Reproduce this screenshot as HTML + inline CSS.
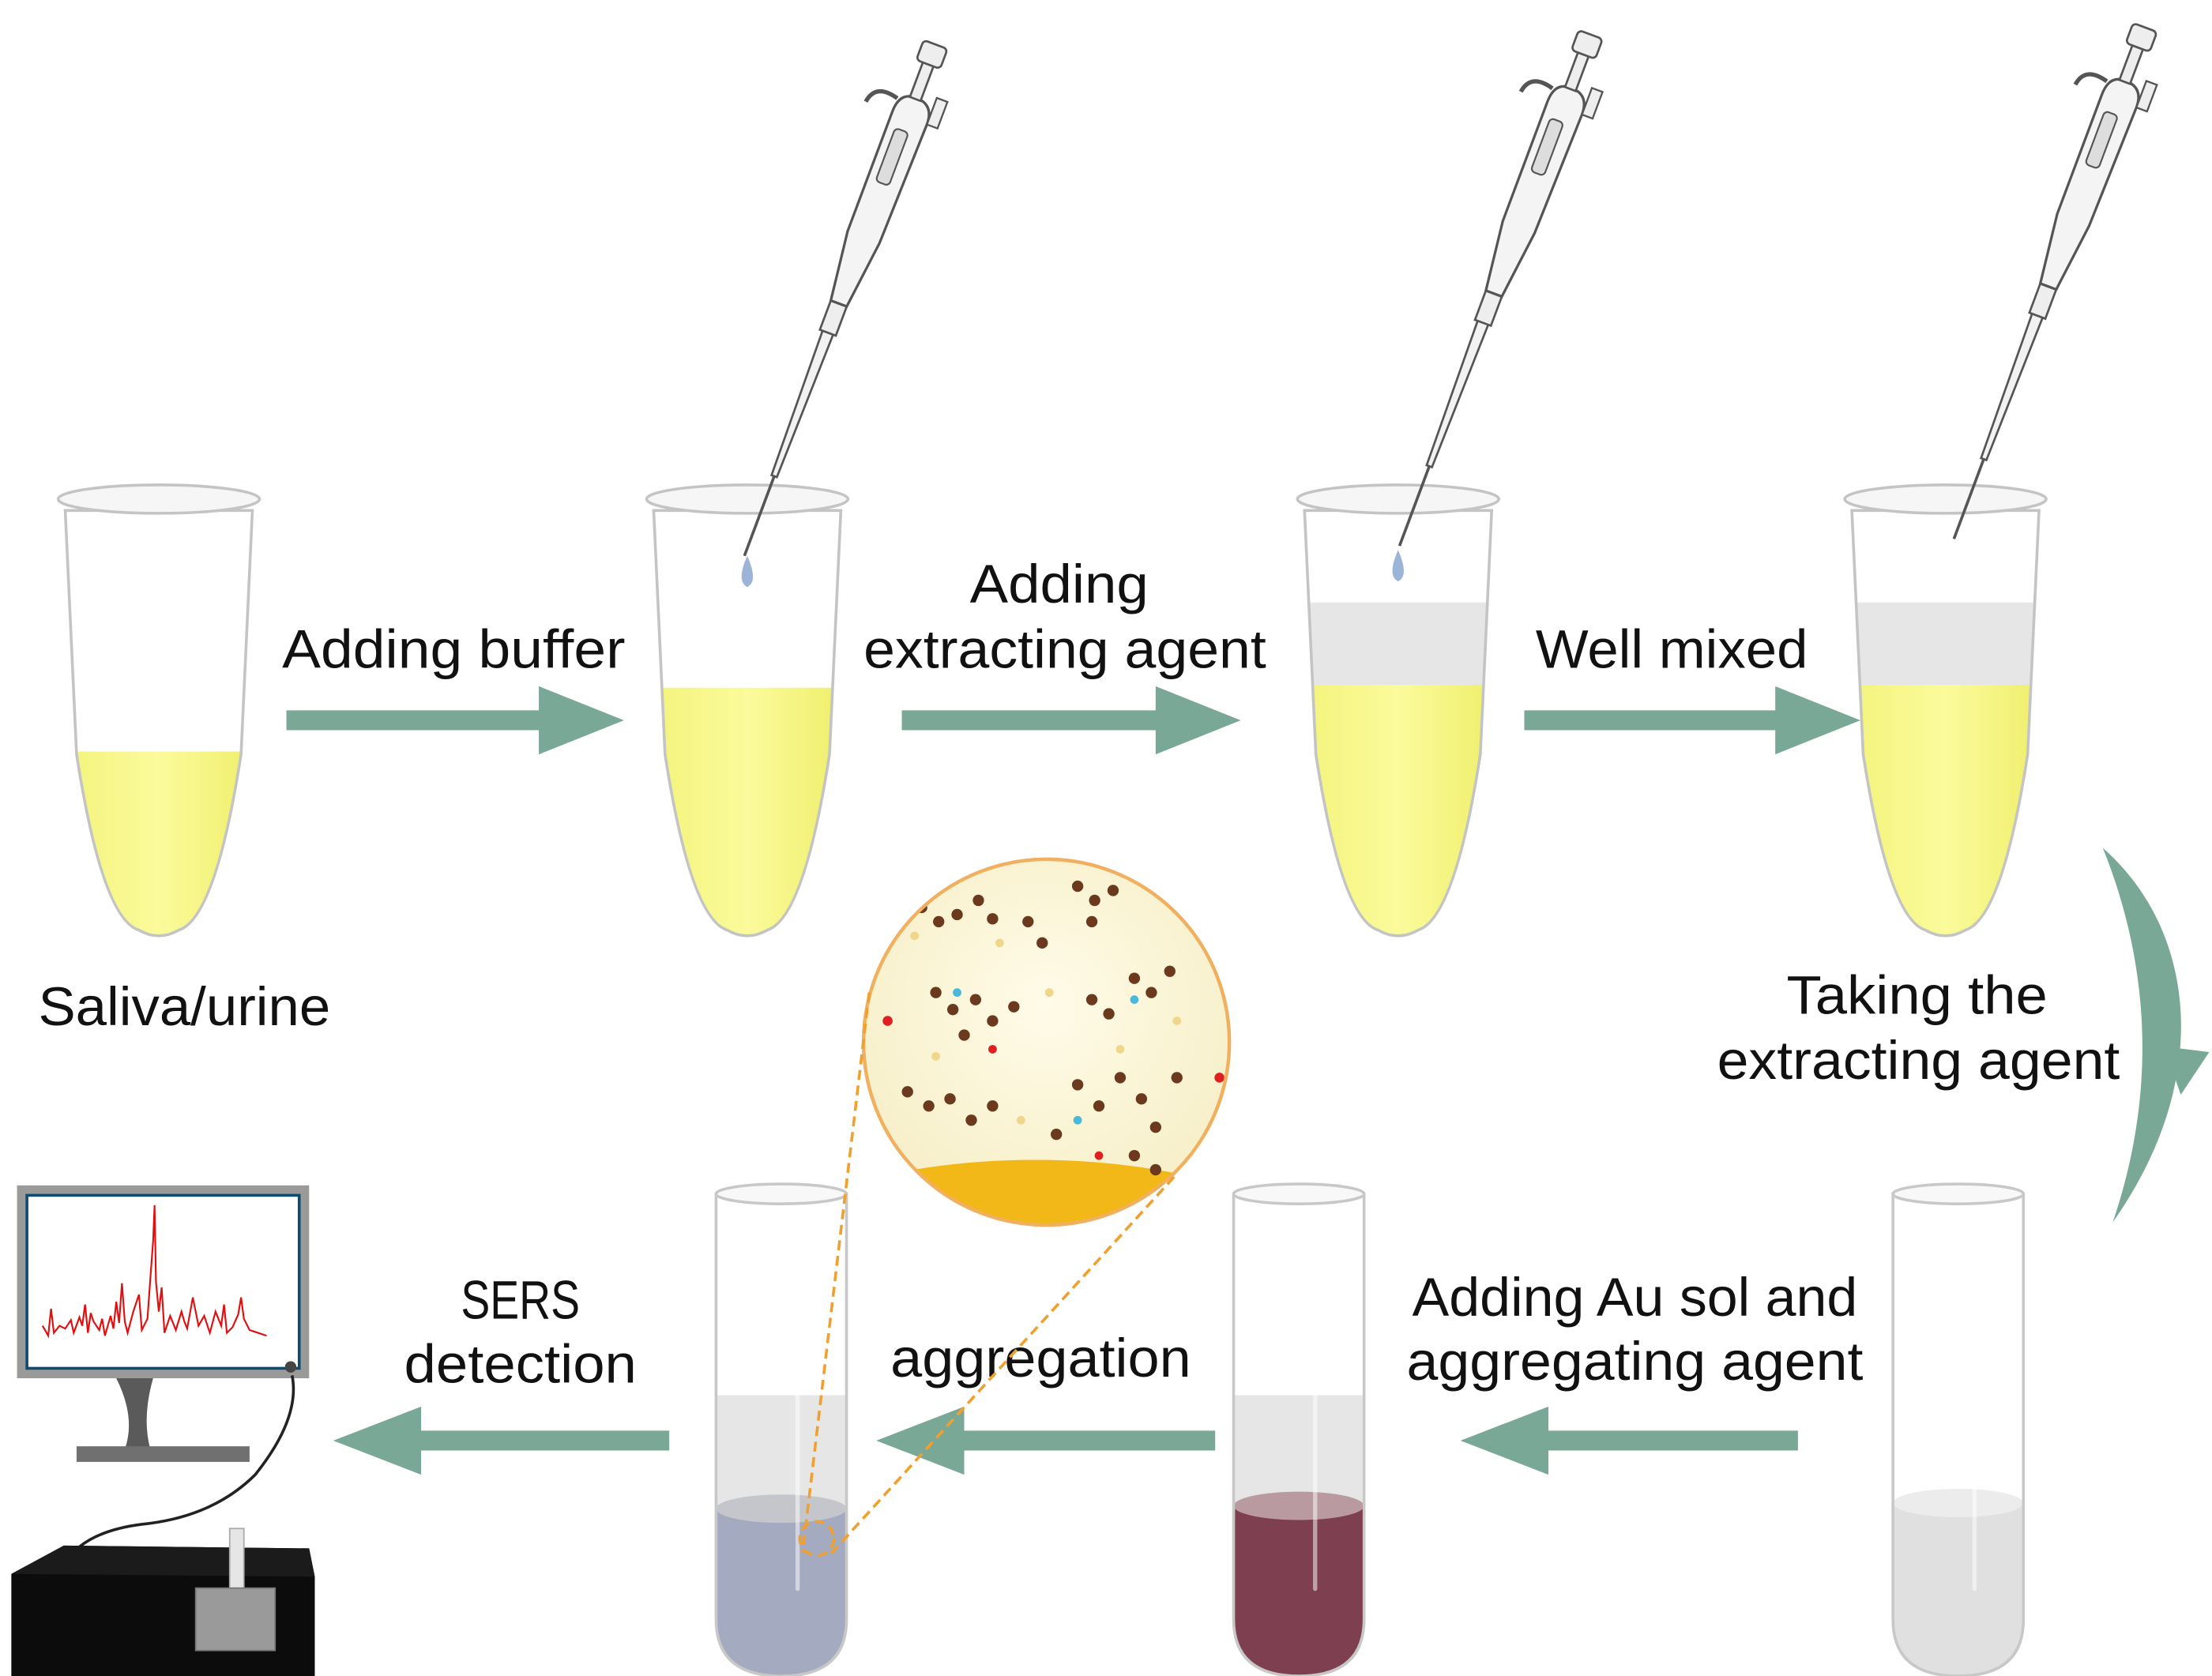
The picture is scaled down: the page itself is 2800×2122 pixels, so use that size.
<!DOCTYPE html>
<html><head><meta charset="utf-8"><style>
html,body{margin:0;padding:0;background:#fff}
svg{display:block}
text{font-family:"Liberation Sans Narrow","Liberation Sans",sans-serif;fill:#111}
</style></head><body>
<svg width="2800" height="2122" viewBox="0 0 1560 1182" preserveAspectRatio="none" xmlns="http://www.w3.org/2000/svg">
<defs>
<path id="ep" d="M-66,8 L-58,180 Q-40,296 -14,304 Q0,312 14,304 Q40,296 58,180 L66,8 Z"/>
<clipPath id="epc"><use href="#ep"/></clipPath>
<path id="tt" d="M-46,0 L-46,300 Q-46,340 0,340 Q46,340 46,300 L46,0 Z"/>
<clipPath id="ttc"><use href="#tt"/></clipPath>
<linearGradient id="yl" x1="0" x2="1"><stop offset="0" stop-color="#f3f37a"/><stop offset=".5" stop-color="#fbfb9c"/><stop offset="1" stop-color="#eeee6a"/></linearGradient>
<radialGradient id="cg" cx=".5" cy=".4" r=".6"><stop offset="0" stop-color="#fffbe8"/><stop offset="1" stop-color="#f7efc8"/></radialGradient>
<g id="pip">
<line x1="0" y1="0" x2="0" y2="-60" stroke="#555" stroke-width="2"/>
<path d="M-2,-60 L-4,-170 L4,-170 L2,-60 Z" fill="#f2f2f2" stroke="#555" stroke-width="1.5"/>
<rect x="-6" y="-190" width="12" height="22" fill="#eee" stroke="#555" stroke-width="1.5"/>
<path d="M-6,-190 L-12,-240 L-12,-330 Q-12,-345 0,-345 Q14,-345 14,-330 L12,-240 L6,-190 Z" fill="#f4f4f4" stroke="#555" stroke-width="1.8"/>
<rect x="-6" y="-320" width="10" height="40" rx="3" fill="#ddd" stroke="#555" stroke-width="1.2"/>
<rect x="-4" y="-370" width="8" height="26" fill="#eee" stroke="#555" stroke-width="1.5"/>
<rect x="-9" y="-385" width="18" height="15" rx="3" fill="#eee" stroke="#555" stroke-width="1.5"/>
<path d="M-12,-340 Q-30,-345 -32,-330" fill="none" stroke="#555" stroke-width="3"/>
<rect x="14" y="-350" width="8" height="20" fill="#eee" stroke="#555" stroke-width="1.3"/>
</g>
</defs>

<g transform="translate(112,352)">
<g clip-path="url(#epc)"><rect x="-70" y="178" width="140" height="140" fill="url(#yl)"/></g>
<use href="#ep" fill="none" stroke="#c4c4c4" stroke-width="2"/>
<ellipse cx="0" cy="0" rx="71" ry="10" fill="#f6f6f6" stroke="#c4c4c4" stroke-width="2"/>
</g>
<g transform="translate(527,352)">
<g clip-path="url(#epc)"><rect x="-70" y="133" width="140" height="190" fill="url(#yl)"/></g>
<use href="#ep" fill="none" stroke="#c4c4c4" stroke-width="2"/>
<ellipse cx="0" cy="0" rx="71" ry="10" fill="#f6f6f6" stroke="#c4c4c4" stroke-width="2"/>
<path d="M0,40 Q-8,58 0,62 Q8,58 0,40Z" fill="#9cb4d8"/>
</g>
<g transform="translate(986,352)">
<g clip-path="url(#epc)"><rect x="-70" y="73" width="140" height="60" fill="#e6e6e6"/><rect x="-70" y="131" width="140" height="190" fill="url(#yl)"/></g>
<use href="#ep" fill="none" stroke="#c4c4c4" stroke-width="2"/>
<ellipse cx="0" cy="0" rx="71" ry="10" fill="#f6f6f6" stroke="#c4c4c4" stroke-width="2"/>
<path d="M0,36 Q-8,54 0,58 Q8,54 0,36Z" fill="#9cb4d8"/>
</g>
<g transform="translate(1372,352)">
<g clip-path="url(#epc)"><rect x="-70" y="73" width="140" height="60" fill="#e6e6e6"/><rect x="-70" y="131" width="140" height="190" fill="url(#yl)"/></g>
<use href="#ep" fill="none" stroke="#c4c4c4" stroke-width="2"/>
<ellipse cx="0" cy="0" rx="71" ry="10" fill="#f6f6f6" stroke="#c4c4c4" stroke-width="2"/>
</g>

<use href="#pip" transform="translate(525,392) rotate(20.5)"/>
<use href="#pip" transform="translate(987,385) rotate(20.5)"/>
<use href="#pip" transform="translate(1378,380) rotate(20.5)"/>

<g fill="#7aa896">
<path d="M202,501 H380 V484 L440,508 L380,532 V515 H202 Z"/>
<path d="M636,501 H815 V484 L875,508 L815,532 V515 H636 Z"/>
<path d="M1075,501 H1252 V484 L1312,508 L1252,532 V515 H1075 Z"/>
<path d="M1268,1009 H1092 V992 L1030,1016 L1092,1040 V1023 H1268 Z"/>
<path d="M857,1009 H680 V992 L618,1016 L680,1040 V1023 H857 Z"/>
<path d="M472,1009 H297 V992 L235,1016 L297,1040 V1023 H472 Z"/>
<path d="M1483,598 C1548,655 1562,760 1490,862 C1518,780 1520,690 1483,598 Z"/>
<path d="M1526,738 L1558,742 L1538,772 Z"/>
</g>

<g font-size="38">
<text x="320" y="471" text-anchor="middle" textLength="242" lengthAdjust="spacingAndGlyphs">Adding buffer</text>
<text x="747" y="425" text-anchor="middle" textLength="126" lengthAdjust="spacingAndGlyphs">Adding</text>
<text x="751" y="471" text-anchor="middle" textLength="284" lengthAdjust="spacingAndGlyphs">extracting agent</text>
<text x="1179" y="471" text-anchor="middle" textLength="192" lengthAdjust="spacingAndGlyphs">Well mixed</text>
<text x="130" y="723" text-anchor="middle" textLength="206" lengthAdjust="spacingAndGlyphs">Saliva/urine</text>
<text x="1352" y="715" text-anchor="middle" textLength="184" lengthAdjust="spacingAndGlyphs">Taking the</text>
<text x="1353" y="761" text-anchor="middle" textLength="284" lengthAdjust="spacingAndGlyphs">extracting agent</text>
<text x="1153" y="928" text-anchor="middle" textLength="314" lengthAdjust="spacingAndGlyphs">Adding Au sol and</text>
<text x="1153" y="973" text-anchor="middle" textLength="322" lengthAdjust="spacingAndGlyphs">aggregating agent</text>
<text x="734" y="971" text-anchor="middle" textLength="212" lengthAdjust="spacingAndGlyphs">aggregation</text>
<text x="367" y="930" text-anchor="middle" textLength="84" lengthAdjust="spacingAndGlyphs">SERS</text>
<text x="367" y="975" text-anchor="middle" textLength="164" lengthAdjust="spacingAndGlyphs">detection</text>
</g>

<g transform="translate(551,842)">
<g clip-path="url(#ttc)"><rect x="-50" y="142" width="100" height="80" fill="#e6e6e6"/><rect x="-50" y="222" width="100" height="130" fill="#a4aac0"/><ellipse cx="0" cy="222" rx="46" ry="10" fill="#c4c6cc"/></g>
<use href="#tt" fill="none" stroke="#c8c8c8" stroke-width="2"/>
<ellipse cx="0" cy="0" rx="46" ry="7" fill="#f8f8f8" stroke="#c8c8c8" stroke-width="2"/>
<rect x="10" y="30" width="3" height="250" rx="1.5" fill="#fff" opacity=".5"/>
</g>
<g transform="translate(916,842)">
<g clip-path="url(#ttc)"><rect x="-50" y="142" width="100" height="80" fill="#e6e6e6"/><rect x="-50" y="220" width="100" height="130" fill="#7e4050"/><ellipse cx="0" cy="220" rx="46" ry="10" fill="#b89aa0"/></g>
<use href="#tt" fill="none" stroke="#c8c8c8" stroke-width="2"/>
<ellipse cx="0" cy="0" rx="46" ry="7" fill="#f8f8f8" stroke="#c8c8c8" stroke-width="2"/>
<rect x="10" y="30" width="3" height="250" rx="1.5" fill="#fff" opacity=".5"/>
</g>
<g transform="translate(1381,842)">
<g clip-path="url(#ttc)"><rect x="-50" y="218" width="100" height="130" fill="#e0e0e0"/><ellipse cx="0" cy="218" rx="46" ry="10" fill="#ececec"/></g>
<use href="#tt" fill="none" stroke="#c8c8c8" stroke-width="2"/>
<ellipse cx="0" cy="0" rx="46" ry="7" fill="#f8f8f8" stroke="#c8c8c8" stroke-width="2"/>
<rect x="10" y="30" width="3" height="250" rx="1.5" fill="#fff" opacity=".5"/>
</g>

<clipPath id="cc"><circle cx="738" cy="735" r="129"/></clipPath>
<circle cx="738" cy="735" r="129" fill="url(#cg)"/>
<g clip-path="url(#cc)">
<ellipse cx="730" cy="890" rx="200" ry="72" fill="#f2b818"/>
<g fill="#6b3a1e">
<circle cx="650" cy="640" r="4"/><circle cx="662" cy="650" r="4"/><circle cx="675" cy="645" r="4"/><circle cx="690" cy="635" r="4"/><circle cx="700" cy="648" r="4"/>
<circle cx="760" cy="625" r="4"/><circle cx="772" cy="635" r="4"/><circle cx="785" cy="628" r="4"/><circle cx="770" cy="650" r="4"/>
<circle cx="660" cy="700" r="4"/><circle cx="672" cy="712" r="4"/><circle cx="688" cy="705" r="4"/><circle cx="700" cy="720" r="4"/><circle cx="715" cy="710" r="4"/><circle cx="680" cy="730" r="4"/>
<circle cx="770" cy="705" r="4"/><circle cx="782" cy="715" r="4"/><circle cx="800" cy="690" r="4"/><circle cx="812" cy="700" r="4"/><circle cx="825" cy="685" r="4"/>
<circle cx="640" cy="770" r="4"/><circle cx="655" cy="780" r="4"/><circle cx="670" cy="775" r="4"/><circle cx="685" cy="790" r="4"/><circle cx="700" cy="780" r="4"/>
<circle cx="760" cy="765" r="4"/><circle cx="775" cy="780" r="4"/><circle cx="790" cy="760" r="4"/><circle cx="805" cy="775" r="4"/><circle cx="815" cy="795" r="4"/><circle cx="830" cy="760" r="4"/>
<circle cx="745" cy="800" r="4"/><circle cx="800" cy="815" r="4"/><circle cx="815" cy="825" r="4"/><circle cx="725" cy="650" r="4"/><circle cx="735" cy="665" r="4"/>
</g>
<g fill="#f0d68a"><circle cx="645" cy="660" r="3"/><circle cx="705" cy="665" r="3"/><circle cx="740" cy="700" r="3"/><circle cx="790" cy="740" r="3"/><circle cx="720" cy="790" r="3"/><circle cx="660" cy="745" r="3"/><circle cx="830" cy="720" r="3"/></g>
<g fill="#4ab8d8"><circle cx="675" cy="700" r="3"/><circle cx="800" cy="705" r="3"/><circle cx="760" cy="790" r="3"/></g>
<g fill="#e02020"><circle cx="626" cy="720" r="3.5"/><circle cx="700" cy="740" r="3"/><circle cx="775" cy="815" r="3"/><circle cx="860" cy="760" r="3.5"/></g>
</g>
<circle cx="738" cy="735" r="129" fill="none" stroke="#f0b060" stroke-width="2.5"/>
<g fill="none" stroke="#f0a030" stroke-width="2" stroke-dasharray="7,4">
<line x1="613" y1="700" x2="566" y2="1095"/>
<line x1="828" y1="830" x2="584" y2="1098"/>
<circle cx="576" cy="1085" r="12"/>
</g>

<rect x="12" y="836" width="206" height="136" fill="#9a9a98"/>
<rect x="18" y="842" width="194" height="124" fill="#0f4a70"/>
<rect x="20" y="844" width="190" height="120" fill="#fff"/>
<circle cx="205" cy="964" r="4" fill="#444"/>
<path d="M82,972 H108 Q100,1000 106,1022 H88 Q96,1000 82,972Z" fill="#5a5a5a"/>
<rect x="54" y="1020" width="122" height="11" fill="#707070"/>
<polyline fill="none" stroke="#e01010" stroke-width="1.2" points="30,935 34,942 36,923 38,940 42,935 46,937 50,931 52,940 56,929 58,935 60,920 62,940 64,926 66,932 70,938 72,930 74,942 78,928 80,937 82,918 84,933 86,905 88,932 90,940 94,925 98,913 100,938 104,930 106,902 108,875 109,850 110,904 112,925 114,908 116,940 120,928 124,938 128,925 130,932 132,937 136,915 140,935 144,928 148,940 152,925 156,935 158,920 160,940 164,936 168,927 170,915 172,930 176,938 182,940 188,942"/>
<path d="M206,970 Q212,1000 180,1040 Q150,1070 100,1075 Q60,1080 46,1102" fill="none" stroke="#222" stroke-width="2"/>
<path d="M8,1110 L45,1090 L218,1092 L222,1112 L222,1182 L8,1182 Z" fill="#0c0c0c"/>
<path d="M8,1110 L45,1090 L218,1092 L222,1112 Z" fill="#1b1b1b"/>
<rect x="162" y="1078" width="10" height="60" fill="#e6e6e6" stroke="#aaa" stroke-width="1"/>
<rect x="138" y="1120" width="56" height="44" fill="#9a9a9a" stroke="#777" stroke-width="1"/>
</svg>
</body></html>
